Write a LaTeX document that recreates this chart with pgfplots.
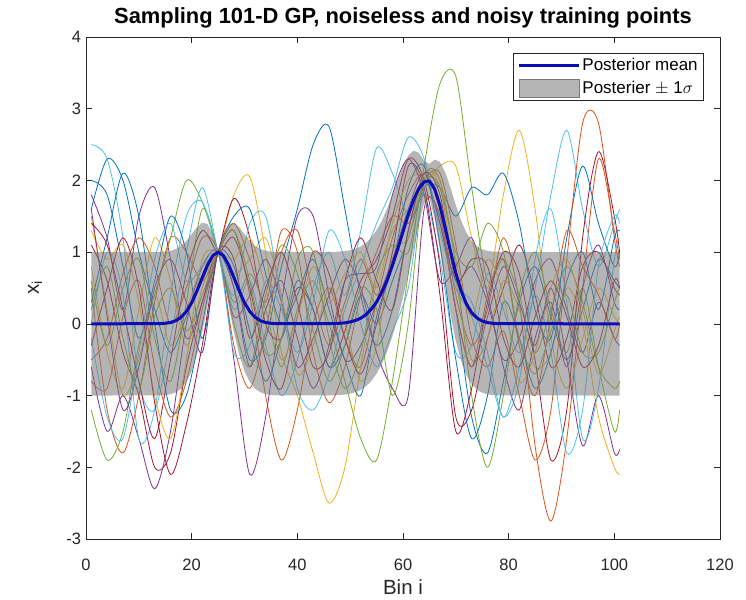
\documentclass[border=0pt]{standalone}
\usepackage{fontspec}
\setmainfont{Liberation Sans}
\usepackage{pgfplots}
\pgfplotsset{compat=1.18}
\definecolor{c1}{rgb}{0,0.447,0.741}
\definecolor{c2}{rgb}{0.850,0.325,0.098}
\definecolor{c3}{rgb}{0.929,0.694,0.125}
\definecolor{c4}{rgb}{0.494,0.184,0.556}
\definecolor{c5}{rgb}{0.466,0.674,0.188}
\definecolor{c6}{rgb}{0.301,0.745,0.933}
\definecolor{c7}{rgb}{0.635,0.078,0.184}
\definecolor{axgray}{rgb}{0.15,0.15,0.15}
\definecolor{meanblue}{rgb}{0.05,0.05,0.72}
\pgfplotsset{samp/.style={smooth, line width=0.8pt, forget plot},
  meanleg/.style={legend image code/.code={\draw[meanblue, line width=3pt] (0pt,0pt) -- (60pt,0pt);}},
  bandleg/.style={legend image code/.code={\fill[black!53, fill opacity=0.55] (0pt,-9pt) rectangle (60pt,9pt);}}}
\begin{document}
\begin{tikzpicture}
\begin{axis}[name=ax, scale only axis, width=634pt, height=502pt,
  xmin=0, xmax=120, ymin=-3, ymax=4,
  xtick={0,20,...,120}, ytick={-3,-2,...,4},
  tick align=inside, major tick length=6pt,
  axis line style={axgray, line width=0.6pt},
  tick style={axgray, line width=0.6pt},
  /pgf/number format/assume math mode=true,
  tick label style={font=\fontsize{16.5}{18}\selectfont, text=axgray},
  xticklabel style={yshift=-16pt},
  yticklabel style={xshift=-1.5pt},
  title={\bfseries Sampling 101-D GP, noiseless and noisy training points},
  title style={at={(axis description cs:0.5,1)}, anchor=center, yshift=13pt, font=\fontsize{21.9}{24}\selectfont},
  xlabel={Bin i},
  xlabel style={at={(axis description cs:0.5,0)}, anchor=center, yshift=-48pt, font=\fontsize{20.5}{24}\selectfont, text=axgray},
  ylabel={x\textsubscript{i}},
  ylabel style={at={(axis description cs:-0.0804,0.5)}, anchor=center, font=\fontsize{20.5}{24}\selectfont, text=axgray},
  legend cell align=left,
  legend style={at={(rel axis cs:1,1)}, anchor=north east, xshift=-16pt, yshift=-16pt,
    font=\fontsize{17}{20}\selectfont, draw=axgray, line width=0.6pt, fill=white,
    inner xsep=4pt, inner ysep=3pt, row sep=5pt},
  clip=true,
]
\addlegendimage{meanleg}
\addlegendentry{Posterior mean}
\addlegendimage{bandleg}
\addlegendentry{Posterier $\pm$ 1$\sigma$}

% samples (x = 1,4,...,100,101)
\addplot[samp, c1] coordinates {(1,1.6)(4,2.3)(7,2.0)(10,1.0)(13,0.2)(16,-0.4)(19,0.1)(22,0.6)(25,1)(28,0.5)(31,-0.5)(34,-0.2)(37,0.8)(40,1.6)(43,2.5)(46,2.75)(49,1.6)(52,0.4)(55,-0.3)(58,0.2)(61,1.3)(64,2.0)(67,1.4)(70,0.2)(73,-1.3)(76,-1.8)(79,-0.8)(82,0.3)(85,0.8)(88,0.1)(91,-0.5)(94,0.2)(97,0.9)(100,0.6)(101,0.5)};
\addplot[samp, c2] coordinates {(1,0.5)(4,-1.2)(7,-1.8)(10,-1.0)(13,0.3)(16,1.2)(19,1.0)(22,0.6)(25,1)(28,1.3)(31,0.4)(34,-1.0)(37,-1.9)(40,-1.2)(43,0.0)(46,0.5)(49,-0.2)(52,-0.6)(55,0.3)(58,1.2)(61,1.8)(64,2.1)(67,1.6)(70,0.4)(73,-0.3)(76,0.2)(79,1.2)(82,0.3)(85,-1.7)(88,-2.75)(91,-1.6)(94,0.5)(97,2.3)(100,1.3)(101,0.9)};
\addplot[samp, c3] coordinates {(1,1.5)(4,0.2)(7,-1.0)(10,-0.5)(13,0.4)(16,-0.3)(19,0.2)(22,0.8)(25,1)(28,1.8)(31,2.05)(34,1.0)(37,-0.4)(40,-1.0)(43,-1.8)(46,-2.5)(49,-2.0)(52,-0.6)(55,0.6)(58,1.3)(61,1.6)(64,1.9)(67,2.2)(70,2.2)(73,1.2)(76,0.5)(79,1.8)(82,2.7)(85,1.6)(88,-0.2)(91,-0.9)(94,-0.2)(97,0.5)(100,0.1)(101,0.0)};
\addplot[samp, c4] coordinates {(1,1.8)(4,1.2)(7,0.2)(10,1.5)(13,1.9)(16,0.9)(19,-0.2)(22,0.3)(25,1)(28,-0.5)(31,-2.1)(34,-1.3)(37,0.3)(40,1.5)(43,1.5)(46,0.4)(49,-0.5)(52,-0.3)(55,0.3)(58,0.9)(61,1.6)(64,2.1)(67,1.4)(70,0.6)(73,0.8)(76,0.3)(79,-0.5)(82,-0.2)(85,0.6)(88,0.9)(91,0.2)(94,-0.4)(97,0.3)(100,-0.2)(101,-0.3)};
\addplot[samp, c5] coordinates {(1,-1.2)(4,-1.9)(7,-1.5)(10,-0.3)(13,0.4)(16,1.2)(19,2.0)(22,1.7)(25,1)(28,0.3)(31,0.7)(34,0.2)(37,-0.6)(40,0.2)(43,0.6)(46,0.0)(49,-0.8)(52,-1.6)(55,-1.9)(58,-0.8)(61,0.7)(64,2.2)(67,3.35)(70,3.45)(73,1.9)(76,0.6)(79,0.9)(82,0.4)(85,-0.4)(88,0.2)(91,0.8)(94,0.3)(97,-0.6)(100,-0.9)(101,-0.8)};
\addplot[samp, c6] coordinates {(1,2.5)(4,2.3)(7,1.2)(10,-0.8)(13,-1.2)(16,-0.2)(19,1.0)(22,1.9)(25,1)(28,0.2)(31,0.6)(34,-0.3)(37,-1.0)(40,-0.5)(43,0.5)(46,1.0)(49,0.4)(52,1.3)(55,2.45)(58,2.1)(61,1.5)(64,1.8)(67,0.9)(70,-0.4)(73,-0.3)(76,0.7)(79,0.2)(82,-0.4)(85,0.5)(88,1.8)(91,2.7)(94,1.6)(97,0.8)(100,1.4)(101,1.6)};
\addplot[samp, c7] coordinates {(1,1.1)(4,0.6)(7,-0.4)(10,-1.0)(13,-2.0)(16,-1.8)(19,-0.6)(22,0.3)(25,1)(28,1.75)(31,1.2)(34,0.0)(37,-0.2)(40,0.5)(43,0.2)(46,-0.6)(49,-0.1)(52,0.6)(55,0.9)(58,1.5)(61,2.3)(64,2.0)(67,0.8)(70,-1.3)(73,-1.2)(76,-0.2)(79,0.5)(82,1.1)(85,0.4)(88,-0.6)(91,-0.2)(94,0.8)(97,1.0)(100,0.5)(101,0.4)};
\addplot[samp, c1] coordinates {(1,0.3)(4,1.2)(7,2.1)(10,1.5)(13,0.0)(16,-1.2)(19,-1.0)(22,0.0)(25,1)(28,0.8)(31,-0.1)(34,-0.8)(37,-0.2)(40,0.6)(43,0.2)(46,-0.6)(49,-0.3)(52,0.4)(55,0.0)(58,0.6)(61,1.2)(64,1.9)(67,1.9)(70,1.5)(73,1.9)(76,1.8)(79,2.1)(82,1.4)(85,0.2)(88,-0.2)(91,1.2)(94,2.2)(97,1.4)(100,0.8)(101,1.0)};
\addplot[samp, c2] coordinates {(1,-0.5)(4,-0.2)(7,0.7)(10,1.2)(13,0.8)(16,0.0)(19,0.5)(22,1.2)(25,1)(28,-0.3)(31,-0.9)(34,-0.1)(37,1.0)(40,1.3)(43,0.4)(46,-0.3)(49,0.3)(52,0.9)(55,0.4)(58,0.8)(61,1.5)(64,2.0)(67,2.1)(70,1.1)(73,-0.2)(76,-0.6)(79,-0.1)(82,-1.0)(85,-1.9)(88,-1.2)(91,0.9)(94,2.8)(97,2.8)(100,1.2)(101,0.8)};
\addplot[samp, c3] coordinates {(1,0.8)(4,-0.4)(7,-0.9)(10,0.2)(13,1.2)(16,0.6)(19,-0.3)(22,0.5)(25,1)(28,0.7)(31,0.9)(34,1.2)(37,0.4)(40,-0.7)(43,-0.3)(46,0.5)(49,0.0)(52,-0.8)(55,-0.3)(58,1.0)(61,1.2)(64,2.1)(67,1.9)(70,0.6)(73,-0.5)(76,-0.2)(79,0.6)(82,0.2)(85,-0.6)(88,-0.4)(91,0.5)(94,0.0)(97,-1.3)(100,-2.0)(101,-2.1)};
\addplot[samp, c4] coordinates {(1,-0.6)(4,-1.5)(7,-1.0)(10,-1.6)(13,-2.3)(16,-1.5)(19,0.0)(22,0.8)(25,1)(28,0.1)(31,0.4)(34,0.9)(37,0.3)(40,-0.6)(43,-0.2)(46,0.4)(49,0.9)(52,0.5)(55,-0.4)(58,-0.9)(61,-1.0)(64,1.6)(67,1.5)(70,0.2)(73,-0.6)(76,0.1)(79,0.8)(82,0.3)(85,-0.3)(88,0.5)(91,-0.5)(94,-1.7)(97,-1.0)(100,-1.8)(101,-1.75)};
\addplot[samp, c5] coordinates {(1,0.6)(4,-0.3)(7,0.5)(10,0.9)(13,-0.2)(16,-0.8)(19,0.3)(22,1.6)(25,1)(28,0.0)(31,-0.6)(34,0.4)(37,1.1)(40,0.7)(43,-0.1)(46,-0.8)(49,-0.3)(52,0.5)(55,0.2)(58,-1.0)(61,0.0)(64,2.0)(67,2.0)(70,0.8)(73,-1.0)(76,-2.0)(79,-1.0)(82,0.4)(85,1.0)(88,0.2)(91,-0.4)(94,0.5)(97,-0.6)(100,-1.5)(101,-1.2)};
\addplot[samp, c6] coordinates {(1,0.0)(4,1.0)(7,0.4)(10,-1.6)(13,-1.2)(16,0.4)(19,1.5)(22,1.7)(25,1)(28,0.4)(31,1.4)(34,1.5)(37,0.3)(40,-0.9)(43,-1.2)(46,-0.7)(49,0.2)(52,0.8)(55,1.4)(58,1.9)(61,2.6)(64,2.3)(67,1.3)(70,0.5)(73,0.1)(76,-0.6)(79,-1.3)(82,-0.8)(85,0.9)(88,1.6)(91,0.3)(94,-1.6)(97,-0.9)(100,0.9)(101,1.2)};
\addplot[samp, c7] coordinates {(1,1.4)(4,1.1)(7,0.2)(10,-0.8)(13,-1.6)(16,-0.5)(19,0.7)(22,1.3)(25,1)(28,1.2)(31,0.5)(34,-0.5)(37,-0.9)(40,0.1)(43,1.0)(46,0.7)(49,-0.2)(52,-0.7)(55,0.0)(58,1.0)(61,2.2)(64,1.9)(67,0.4)(70,-1.5)(73,-0.9)(76,0.3)(79,1.0)(82,0.7)(85,-0.5)(88,-1.9)(91,-1.2)(94,1.2)(97,2.4)(100,1.5)(101,1.0)};
\addplot[samp, c1] coordinates {(1,2.0)(4,1.8)(7,0.8)(10,-0.2)(13,0.6)(16,1.5)(19,1.0)(22,-0.2)(25,1)(28,1.5)(31,1.6)(34,0.7)(37,0.0)(40,0.4)(43,0.9)(46,0.2)(49,-0.5)(52,-1.0)(55,0.1)(58,0.8)(61,1.9)(64,2.2)(67,1.1)(70,-0.5)(73,-1.6)(76,-1.0)(79,0.3)(82,-0.2)(85,-0.9)(88,-0.4)(91,0.6)(94,1.0)(97,0.2)(100,1.2)(101,1.3)};
\addplot[samp, c2] coordinates {(1,-0.8)(4,-0.9)(7,0.1)(10,0.6)(13,-0.6)(16,-1.3)(19,-0.8)(22,0.2)(25,1)(28,1.4)(31,0.9)(34,0.3)(37,1.3)(40,1.0)(43,-0.4)(46,-1.1)(49,-0.6)(52,0.4)(55,1.0)(58,1.5)(61,1.4)(64,1.8)(67,1.5)(70,0.2)(73,-0.6)(76,0.4)(79,0.9)(82,-0.3)(85,-1.0)(88,0.1)(91,1.3)(94,0.8)(97,0.4)(100,-0.2)(101,0.0)};
\addplot[samp, c3] coordinates {(1,1.3)(4,0.9)(7,1.1)(10,0.3)(13,-1.0)(16,-1.6)(19,-0.5)(22,0.9)(25,1)(28,0.9)(31,1.2)(34,0.5)(37,-0.5)(40,0.1)(43,0.8)(46,0.3)(49,0.7)(52,1.0)(55,0.5)(58,1.4)(61,2.0)(64,2.1)(67,2.0)(70,0.9)(73,0.1)(76,0.9)(79,0.4)(82,-0.8)(85,-0.4)(88,0.5)(91,0.9)(94,0.2)(97,-0.7)(100,-0.1)(101,0.1)};
\addplot[samp, c4] coordinates {(1,1.6)(4,0.1)(7,-1.2)(10,-0.6)(13,0.5)(16,0.9)(19,0.3)(22,-0.4)(25,1)(28,0.5)(31,-0.6)(34,0.2)(37,0.6)(40,-0.2)(43,-0.9)(46,-0.3)(49,0.6)(52,0.7)(55,0.8)(58,1.8)(61,2.3)(64,1.8)(67,0.6)(70,0.8)(73,1.2)(76,0.4)(79,-0.6)(82,-1.2)(85,-0.2)(88,0.3)(91,-0.6)(94,0.5)(97,1.1)(100,0.3)(101,0.2)};
\addplot[samp, c5] coordinates {(1,0.2)(4,0.8)(7,-0.2)(10,-0.9)(13,0.1)(16,0.5)(19,-0.1)(22,0.4)(25,1)(28,1.3)(31,0.6)(34,-0.4)(37,-0.2)(40,0.9)(43,1.0)(46,-0.2)(49,-0.9)(52,-0.4)(55,0.7)(58,1.1)(61,1.0)(64,2.0)(67,1.9)(70,1.0)(73,0.8)(76,1.4)(79,1.0)(82,-0.2)(85,-0.7)(88,-0.1)(91,0.4)(94,-0.4)(97,-0.4)(100,0.3)(101,0.5)};
\addplot[samp, c6] coordinates {(1,-0.2)(4,-1.3)(7,-1.6)(10,-0.4)(13,0.9)(16,1.4)(19,0.6)(22,0.8)(25,1)(28,-0.4)(31,-0.3)(34,0.6)(37,0.2)(40,-0.4)(43,0.3)(46,1.3)(49,0.9)(52,0.0)(55,-0.6)(58,-0.1)(61,0.5)(64,1.9)(67,1.7)(70,0.6)(73,0.3)(76,-0.4)(79,-1.3)(82,-0.6)(85,0.4)(88,-0.4)(91,-1.8)(94,-1.2)(97,0.8)(100,1.5)(101,1.4)};
\addplot[samp, c7] coordinates {(1,-0.3)(4,0.5)(7,1.2)(10,0.5)(13,-1.1)(16,-2.1)(19,-1.4)(22,-0.3)(25,1)(28,0.9)(31,-0.2)(34,0.5)(37,1.0)(40,0.3)(43,-0.6)(46,-0.4)(49,0.6)(52,1.2)(55,0.6)(58,0.2)(61,1.3)(64,2.1)(67,1.8)(70,0.6)(73,0.9)(76,0.8)(79,-0.2)(82,-0.6)(85,0.1)(88,0.6)(91,0.1)(94,-0.6)(97,-0.3)(100,0.6)(101,0.5)};

% posterior band (upper edge 1..101, then lower edge 101..1)
\addplot[forget plot, draw=none, fill=black!53, fill opacity=0.55] coordinates {
(1,1)(14,1.003)(15,1.008)(16,1.019)(17,1.043)(18,1.088)(19,1.158)(20,1.250)(21,1.347)(22,1.409)(23,1.391)(24,1.257)(25,1)(26,1.257)(27,1.391)(28,1.409)(29,1.347)(30,1.250)(31,1.158)(32,1.088)(33,1.043)(34,1.019)(35,1.008)(36,1.003)(46,1.002)(47,1.004)(48,1.008)(49,1.014)(50,1.027)(51,1.047)(52,1.079)(53,1.129)(54,1.203)(55,1.305)(56,1.439)(57,1.607)(58,1.802)(59,2.008)(60,2.200)(61,2.347)(62,2.415)(63,2.384)(64,2.273)(65,2.231)(66,2.291)(67,2.259)(68,2.113)(69,1.893)(70,1.655)(71,1.440)(72,1.271)(73,1.154)(74,1.081)(75,1.039)(76,1.018)(77,1.007)(78,1.003)(101,1)
(101,-1)(78,-0.997)(77,-0.993)(76,-0.982)(75,-0.961)(74,-0.919)(73,-0.842)(72,-0.715)(71,-0.520)(70,-0.241)(69,0.123)(68,0.561)(67,1.029)(66,1.467)(65,1.755)(64,1.687)(63,1.392)(62,1.043)(61,0.695)(60,0.370)(59,0.080)(58,-0.172)(57,-0.385)(56,-0.559)(55,-0.695)(54,-0.797)(53,-0.871)(52,-0.921)(51,-0.953)(50,-0.973)(49,-0.986)(48,-0.992)(47,-0.996)(46,-0.998)(36,-0.997)(35,-0.992)(34,-0.981)(33,-0.955)(32,-0.904)(31,-0.812)(30,-0.660)(29,-0.431)(28,-0.119)(27,0.255)(26,0.647)(25,1)(24,0.647)(23,0.255)(22,-0.119)(21,-0.431)(20,-0.660)(19,-0.812)(18,-0.904)(17,-0.955)(16,-0.981)(15,-0.992)(14,-0.997)(1,-1)};

% posterior mean
\addplot[forget plot, meanblue, line width=3pt, line join=round] coordinates {
(1,0)(14,0.003)(15,0.008)(16,0.019)(17,0.044)(18,0.092)(19,0.173)(20,0.295)(21,0.458)(22,0.645)(23,0.823)(24,0.952)(25,1)(26,0.952)(27,0.823)(28,0.645)(29,0.458)(30,0.295)(31,0.173)(32,0.092)(33,0.044)(34,0.019)(35,0.008)(36,0.003)(46,0.002)(47,0.004)(48,0.008)(49,0.014)(50,0.027)(51,0.047)(52,0.079)(53,0.129)(54,0.203)(55,0.305)(56,0.440)(57,0.611)(58,0.815)(59,1.044)(60,1.285)(61,1.521)(62,1.729)(63,1.888)(64,1.980)(65,1.993)(66,1.879)(67,1.644)(68,1.337)(69,1.008)(70,0.707)(71,0.460)(72,0.278)(73,0.156)(74,0.081)(75,0.039)(76,0.018)(77,0.007)(78,0.003)(101,0)};
\end{axis}
\pgfresetboundingbox
\path ([xshift=-86pt,yshift=-61pt]ax.south west) rectangle ([xshift=26pt,yshift=37pt]ax.north east);
\end{tikzpicture}
\end{document}
